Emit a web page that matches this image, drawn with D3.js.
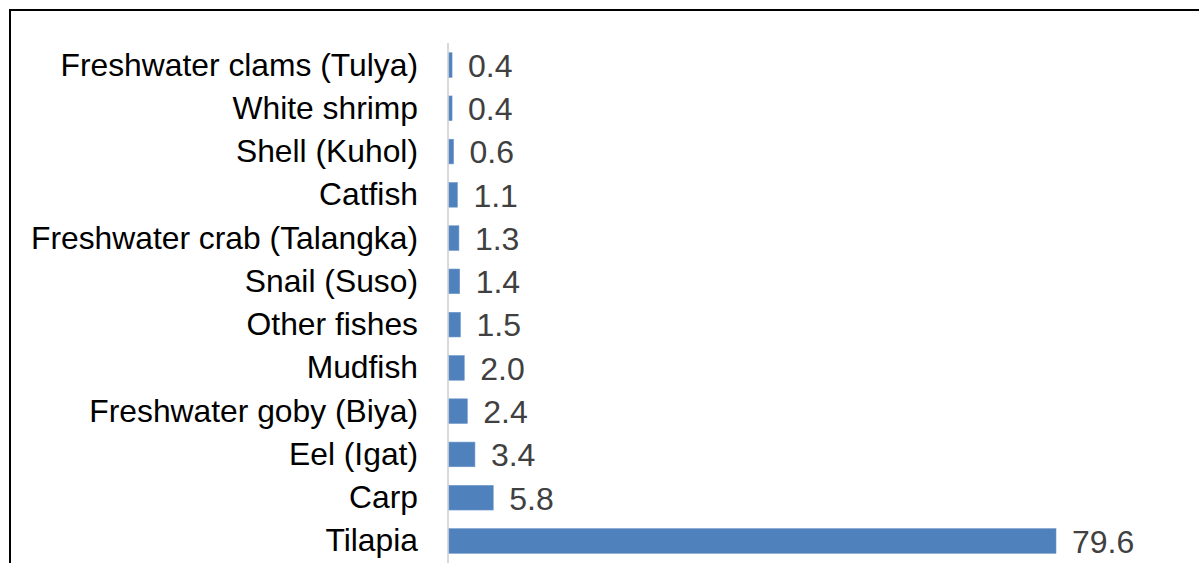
<!DOCTYPE html>
<html><head><meta charset="utf-8">
<script src="https://cdn.jsdelivr.net/npm/d3@7"></script>
<style>html,body{margin:0;padding:0;background:#fff;overflow:hidden}</style>
</head><body>
<svg id="chart" width="1199" height="563"></svg>
<script>
const categories = ["Freshwater clams (Tulya)","White shrimp","Shell (Kuhol)","Catfish","Freshwater crab (Talangka)","Snail (Suso)","Other fishes","Mudfish","Freshwater goby (Biya)","Eel (Igat)","Carp","Tilapia"];
const values = [0.4,0.4,0.6,1.1,1.3,1.4,1.5,2.0,2.4,3.4,5.8,79.6];
const valueLabels = ["0.4","0.4","0.6","1.1","1.3","1.4","1.5","2.0","2.4","3.4","5.8","79.6"];

const FONT = "'Liberation Sans', Arial, sans-serif";
const svg = d3.select("#chart");
// outer frame
svg.append("rect").attr("x",10).attr("y",10).attr("width",1300).attr("height",700)
  .attr("fill","none").attr("stroke","#000").attr("stroke-width",2);

const x0 = 449;
const x = d3.scaleLinear().domain([0,79.6]).range([x0,1056]);
const y = d3.scaleBand().domain(categories).range([43.4,562.6]).paddingInner(0.43).paddingOuter(0.215);

svg.append("line").attr("x1",448).attr("x2",448).attr("y1",43).attr("y2",563)
  .attr("stroke","#d9d9d9").attr("stroke-width",2);

svg.selectAll("rect.bar").data(values).enter().append("rect").attr("class","bar")
  .attr("x",x0).attr("y",(d,i)=>y(categories[i]))
  .attr("width",d=>x(d)-x0).attr("height",y.bandwidth())
  .attr("fill","#4f81bd").attr("stroke","#6f97c9").attr("stroke-width",0.6);

svg.selectAll("text.cat").data(categories).enter().append("text").attr("class","cat")
  .attr("x",418).attr("y",d=>y(d)+y.bandwidth()/2).attr("dy","0.33em")
  .attr("text-anchor","end").style("font-family",FONT)
  .style("font-size","31.8px").attr("fill","#000").text(d=>d);

svg.selectAll("text.val").data(values).enter().append("text").attr("class","val")
  .attr("x",d=>x(d)+16).attr("y",(d,i)=>y(categories[i])+y.bandwidth()/2).attr("dy","0.37em")
  .style("font-family",FONT)
  .style("font-size","32px").attr("fill","#404040").text((d,i)=>valueLabels[i]);
</script>
</body></html>
